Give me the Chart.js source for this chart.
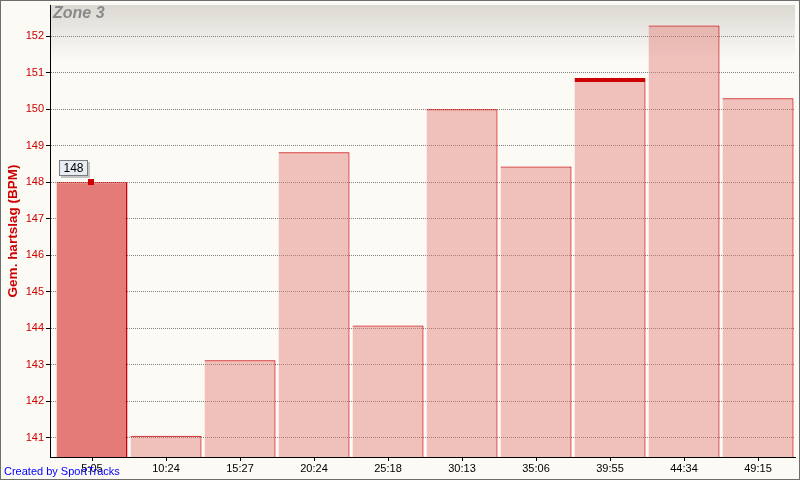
<!DOCTYPE html>
<html><head><meta charset="utf-8">
<script src="https://cdn.jsdelivr.net/npm/chart.js@4"></script>
<style>html,body{margin:0;padding:0;background:#fbfaf5;overflow:hidden;} canvas{display:block;}</style>
</head><body>
<canvas id="c" width="800" height="480"></canvas>
<script>
const categories = ['5:05','10:24','15:27','20:24','25:18','30:13','35:06','39:55','44:34','49:15'];
const avgHeartRate = [148.0, 141.06, 143.13, 148.82, 144.08, 150.0, 148.43, 150.85, 152.29, 150.30];
const yTickValues = [141,142,143,144,145,146,147,148,149,150,151,152];
const selectedIndex = 0;
const highlightedIndex = 7;
const tooltipLabel = '148';
const chartTitle = 'Zone 3';
const yAxisTitle = 'Gem. hartslag (BPM)';
const creditText = 'Created by SportTracks';

const FONT = "'Liberation Sans', Arial, sans-serif";

const decorPlugin = {
  id: 'decor',
  beforeDraw(chart) {
    const {ctx, chartArea: a} = chart;
    ctx.save();
    ctx.fillStyle = '#fbfaf5';
    ctx.fillRect(0, 0, chart.width, chart.height);
    const h = 55;
    const g = ctx.createLinearGradient(0, a.top, 0, a.top + h);
    g.addColorStop(0, '#dcd9d3');
    g.addColorStop(1, '#fbfaf5');
    ctx.fillStyle = g;
    ctx.fillRect(a.left, a.top, a.right - a.left, h);
    ctx.restore();
  },
  afterDraw(chart) {
    const {ctx, chartArea: a} = chart;
    ctx.save();
    // title
    ctx.font = "italic bold 16px " + FONT;
    ctx.fillStyle = '#8a8a8a';
    ctx.textBaseline = 'alphabetic';
    ctx.textAlign = 'left';
    ctx.fillText(chartTitle, a.left + 3, a.top + 13);
    // tooltip + marker on selected bar
    const bar = chart.getDatasetMeta(0).data[selectedIndex];
    const px = Math.round(bar.x), py = Math.round(bar.y);
    ctx.fillStyle = '#cc0000';
    ctx.fillRect(px - 4, py - 3, 6, 6);
    const bx = px - 33, by = py - 22, bw = 29, bh = 16;
    ctx.fillStyle = '#c4c4c4';
    ctx.fillRect(bx + 2, by + 2, bw, bh);
    ctx.fillStyle = '#e6eef4';
    ctx.fillRect(bx, by, bw, bh);
    ctx.strokeStyle = '#7a7a7a';
    ctx.lineWidth = 1;
    ctx.strokeRect(bx + 0.5, by + 0.5, bw - 1, bh - 1);
    ctx.fillStyle = '#000';
    ctx.font = "12px " + FONT;
    ctx.textAlign = 'center';
    ctx.textBaseline = 'middle';
    ctx.fillText(tooltipLabel, bx + bw / 2, by + bh / 2 + 0.5);
    // credit
    ctx.font = "11px " + FONT;
    ctx.fillStyle = '#0000ff';
    ctx.textAlign = 'left';
    ctx.textBaseline = 'alphabetic';
    ctx.fillText(creditText, 4, 475);
    // outer frame
    ctx.strokeStyle = '#6e6e6e';
    ctx.lineWidth = 1;
    ctx.strokeRect(0.5, 0.5, chart.width - 1, chart.height - 1);
    ctx.restore();
  }
};

new Chart(document.getElementById('c').getContext('2d'), {
  type: 'bar',
  data: {
    datasets: [{
      data: avgHeartRate.map((v, i) => ({x: i, y: v})),
      backgroundColor: c => c.dataIndex === selectedIndex ? '#e47b78' : 'rgba(226,121,118,0.45)',
      borderColor: '#cc0000',
      borderWidth: c => ({
        top: c.dataIndex === highlightedIndex ? 4 : 1,
        right: c.dataIndex === selectedIndex ? 2 : 1,
        left: 0, bottom: 0
      }),
      borderSkipped: false,
      barPercentage: 0.96,
      categoryPercentage: 1
    }]
  },
  options: {
    responsive: false,
    animation: false,
    events: [],
    layout: {padding: {top: 5, right: 5, left: 0, bottom: 0}},
    plugins: {legend: {display: false}, tooltip: {enabled: false}},
    scales: {
      x: {
        type: 'linear',
        offset: false,
        min: -0.5676,
        max: 9.5,
        afterBuildTicks: s => { s.ticks = categories.map((c, i) => ({value: i})); },
        afterFit: s => { s.height = 23; s.paddingLeft = 0; s.paddingRight = 0; },
        ticks: {
          autoSkip: false, maxRotation: 0, minRotation: 0,
          callback: v => categories[v],
          color: '#000',
          font: {family: FONT, size: 11},
          padding: 1
        },
        grid: {offset: false, drawOnChartArea: false, drawTicks: true, tickLength: 4, tickColor: '#000'},
        border: {display: true, color: '#000', width: 1}
      },
      y: {
        min: 140.48,
        max: 152.85,
        afterBuildTicks: s => { s.ticks = yTickValues.map(v => ({value: v})); },
        afterFit: s => { s.width = 50; s.paddingTop = 0; s.paddingBottom = 0; },
        ticks: {
          color: '#cc0000',
          font: {family: FONT, size: 11},
          padding: 2
        },
        grid: {color: '#808080', lineWidth: 1, tickColor: '#000', tickLength: 4, tickBorderDash: [1, 0]},
        border: {display: true, color: '#000', width: 1, dash: [1, 1]},
        title: {
          display: true,
          text: yAxisTitle,
          color: '#cc0000',
          font: {family: FONT, size: 13.5, weight: 'bold'},
          padding: {top: 5, bottom: 0}
        }
      }
    }
  },
  plugins: [decorPlugin]
});
</script>
</body></html>
